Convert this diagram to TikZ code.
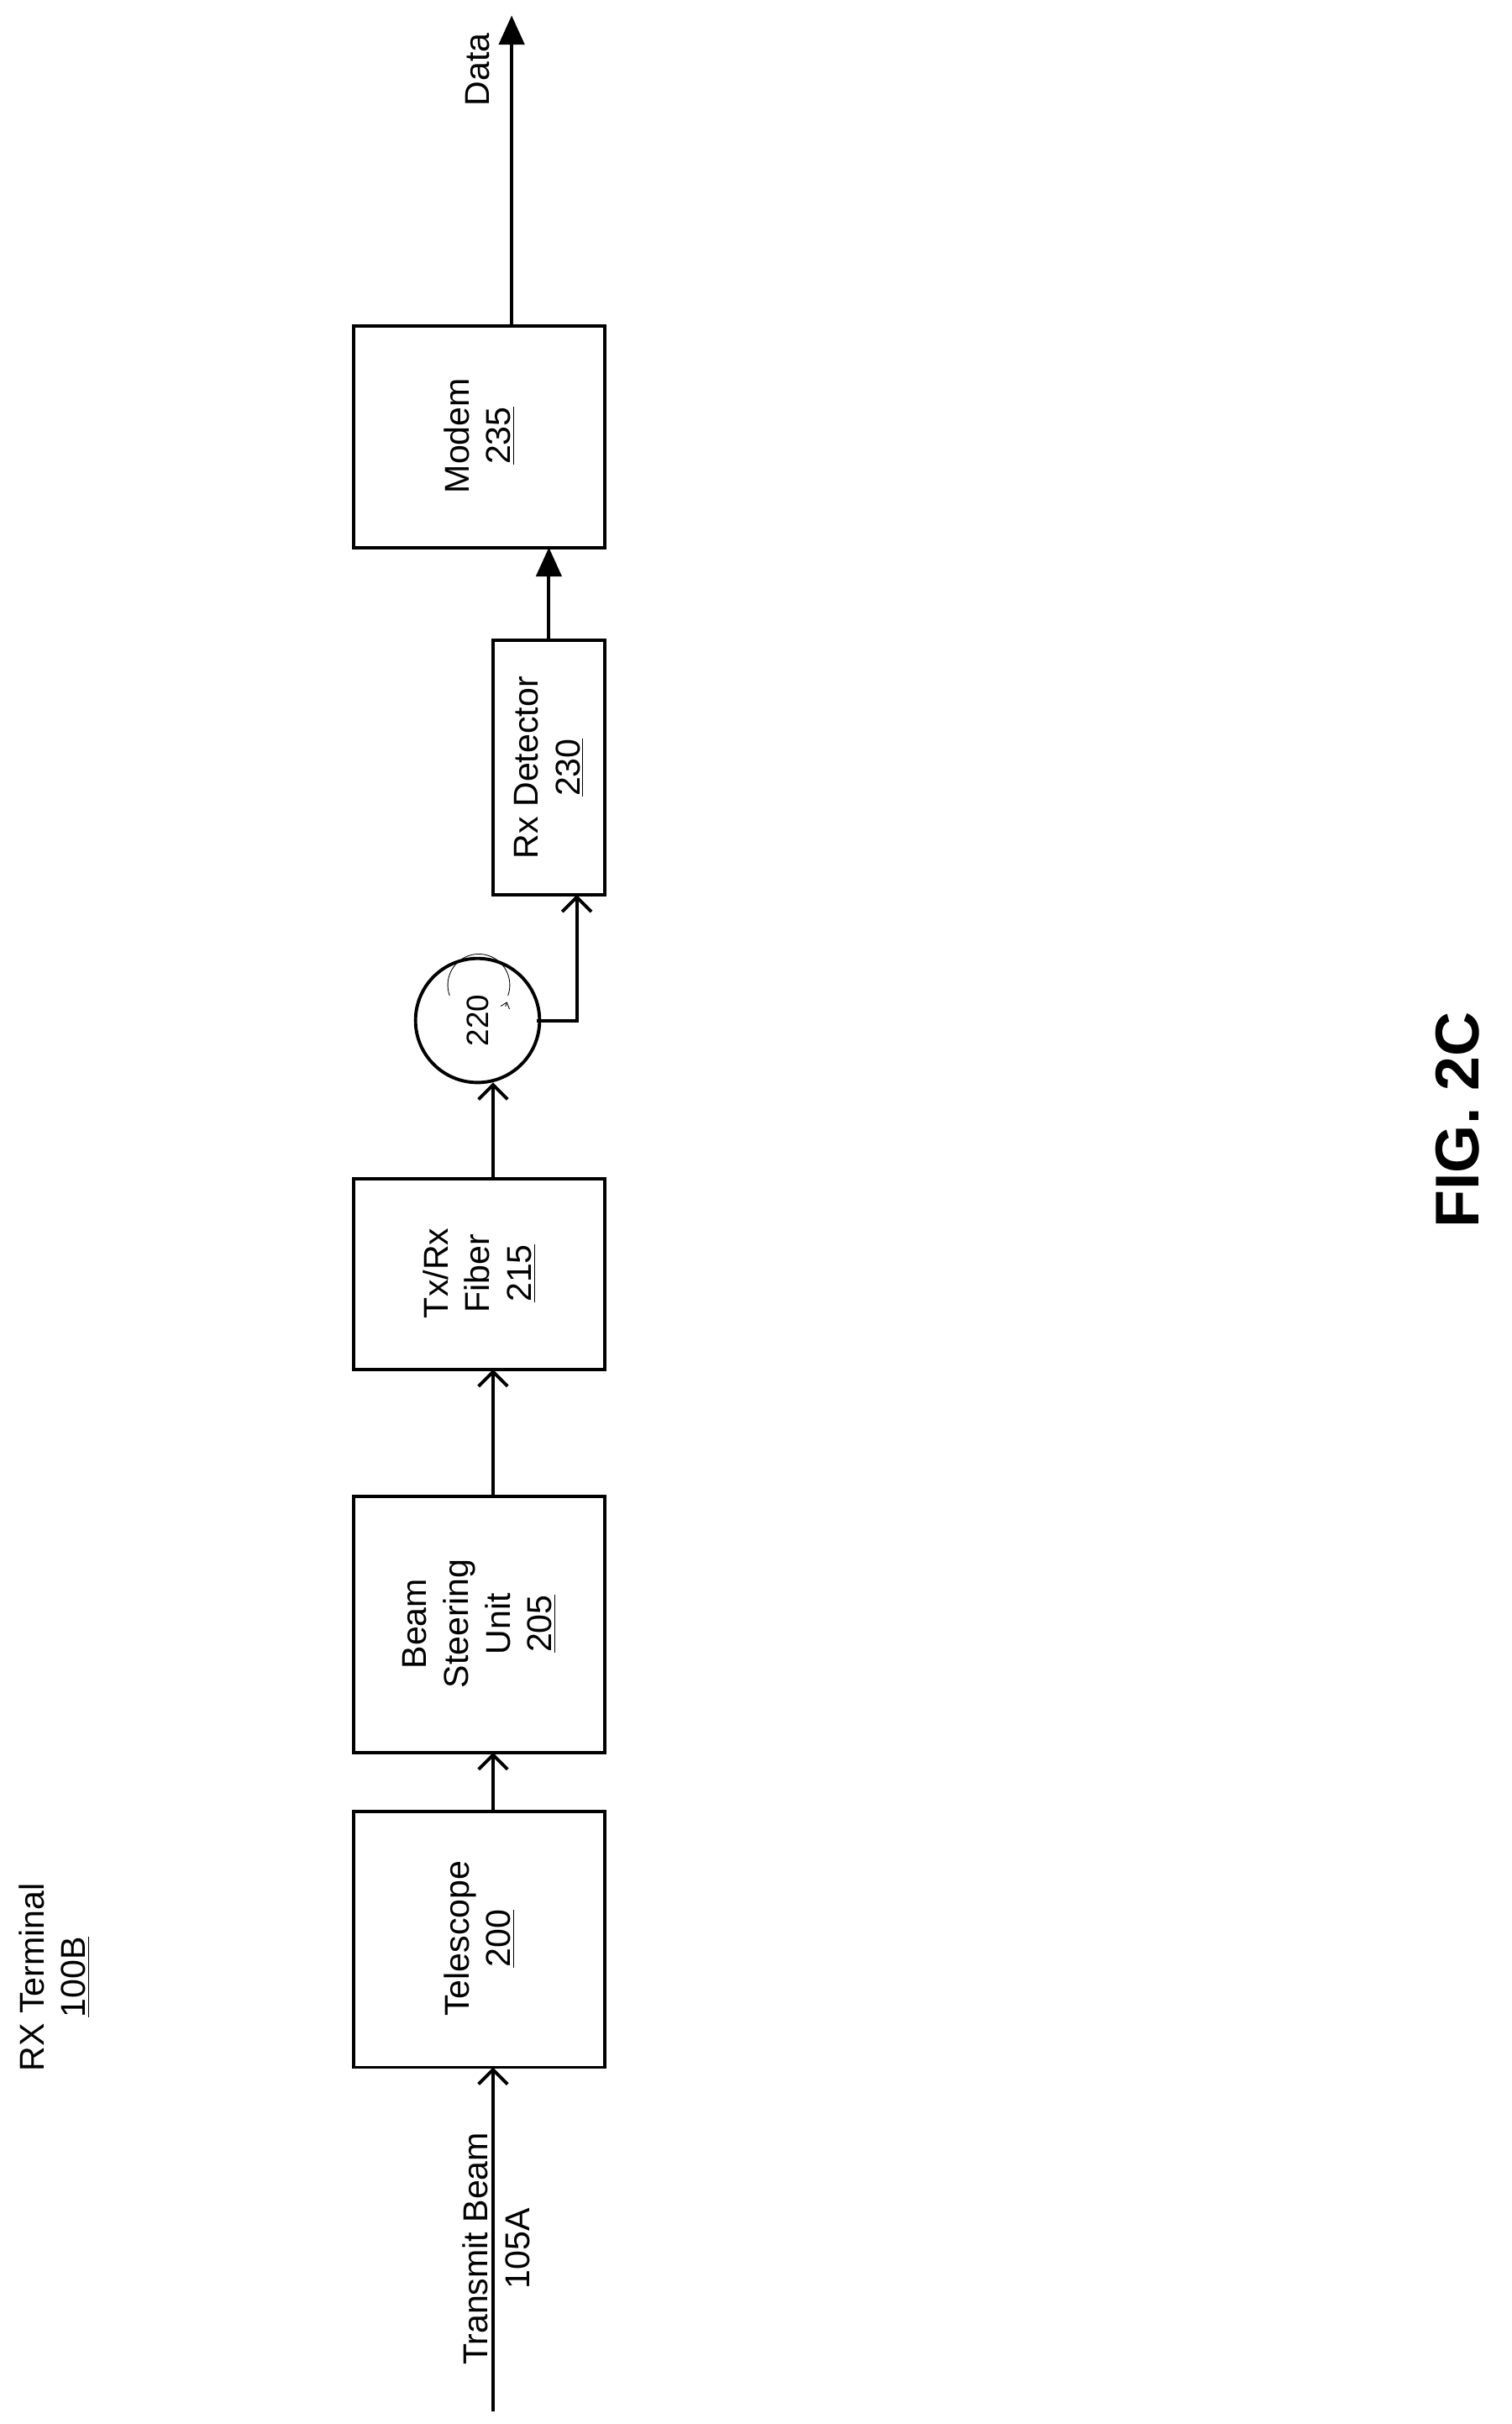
\documentclass[tikz,border=0pt]{standalone}
\usepackage{fontspec}
\setmainfont{Liberation Sans}
\usetikzlibrary{arrows.meta}
\begin{document}
\begin{tikzpicture}[x=0.03cm,y=-0.03cm,
  blk/.style={draw,line width=1.8pt,inner sep=0pt},
  ln/.style={line width=1.8pt},
  open/.style={-{Straight Barb[length=8pt,width=16pt,line width=1.8pt]}},
  fill/.style={-{Triangle[length=16pt,width=14pt]}},
  txt/.style={font=\fontsize{19}{23}\selectfont,align=center,rotate=90}]
\useasboundingbox (0,0) rectangle (975,1563);
\draw[blk] (228,1168) rectangle (390,1333); \node[txt] (tel) at (309,1250) {Telescope\\\underline{200}};
\draw[blk] (228,965) rectangle (390,1130); \node[txt] (bsu) at (309,1047) {Beam\\Steering\\Unit\\\underline{205}};
\draw[blk] (228,760) rectangle (390,883); \node[txt] (fib) at (309,821) {Tx/Rx\\Fiber\\\underline{215}};
\draw[blk] (318,413) rectangle (390,577); \node[txt] (det) at (354,495) {Rx Detector\\\underline{230}};
\draw[blk] (228,210) rectangle (390,353); \node[txt] (mod) at (309,281) {Modem\\\underline{235}};
\node[circle,draw,line width=1.8pt,minimum size=2.4cm,inner sep=0pt] (circ) at (308,658) {};
\node[txt,font=\fontsize{17}{20}\selectfont] at (308,658) {220};
\draw[thin] (290,642) arc[start angle=160,end angle=380,radius=20];
\draw[thin,-{Straight Barb[length=3pt,width=5pt]}] (326,649) -- (327,646);
\coordinate (src) at (318,1555);
\draw[ln,open] (src) -- (318,1333);
\draw[ln,open] (318,1168) -- (318,1130);
\draw[ln,open] (318,965) -- (318,883);
\draw[ln,open] (318,760) -- (318,698);
\draw[ln,open] (346,658) -- (372,658) -- (372,577);
\draw[ln,fill] (354,413) -- (354,353);
\coordinate (out) at (330,10);
\draw[ln,fill] (330,210) -- (out);
\node[txt,anchor=south] at (320,45) {Data};
\node[txt,anchor=south] at (346,1450) {Transmit Beam\\105A};
\node[txt] at (35,1275) {RX Terminal\\\underline{100B}};
\node[rotate=90,font=\bfseries\fontsize{34}{40}\selectfont] at (940,722) {FIG. 2C};
\end{tikzpicture}
\end{document}
